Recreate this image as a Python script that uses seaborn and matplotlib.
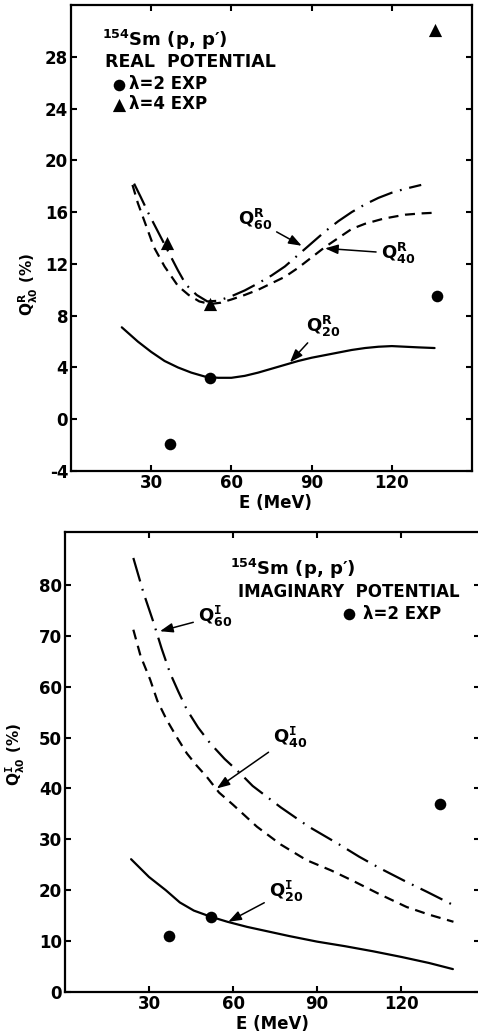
#!/usr/bin/env python3
# -*- coding: utf-8 -*-
"""
154Sm(p,p') quadrupole/hexadecapole moment ratios, real and imaginary potential
"""

import matplotlib
matplotlib.use("Agg")
import matplotlib.pyplot as plt
import seaborn as sns

# ---- top panel: real potential ----
e_q20r = [19, 25, 30, 35, 40, 45, 50, 55, 60, 65, 70, 75, 80, 85, 90, 95, 100,
          105, 110, 115, 120, 125, 130, 136]
q20r = [7.1, 6.0, 5.2, 4.5, 4.0, 3.6, 3.3, 3.2, 3.2, 3.35, 3.6, 3.9, 4.2, 4.5,
        4.75, 4.95, 5.15, 5.35, 5.5, 5.6, 5.65, 5.6, 5.55, 5.5]

e_q40r = [23, 25, 28, 31, 35, 40, 44, 48, 52, 56, 60, 65, 70, 75, 80, 85, 90,
          95, 100, 105, 110, 117, 125, 131, 136]
q40r = [18.1, 16.7, 15.0, 13.3, 11.8, 10.3, 9.6, 9.1, 8.9, 9.0, 9.25, 9.6, 10.0,
        10.5, 11.0, 11.7, 12.5, 13.3, 14.0, 14.7, 15.1, 15.5, 15.8, 15.9, 15.95]

e_q60r = [23.6, 26, 29, 33, 36, 40, 43, 47, 51, 55, 60, 65, 70, 75, 80, 85, 90,
          95, 100, 105, 110, 115, 120, 125, 131]
q60r = [18.2, 17.2, 15.9, 14.3, 13.1, 11.5, 10.4, 9.6, 9.1, 9.15, 9.5, 9.95,
        10.5, 11.1, 11.8, 12.7, 13.6, 14.5, 15.3, 16.0, 16.6, 17.1, 17.5, 17.8, 18.1]

e_exp2_r = [37, 52, 137]
q_exp2_r = [-1.9, 3.2, 9.5]
e_exp4_r = [36, 52, 136]
q_exp4_r = [13.6, 8.9, 30.1]

# ---- bottom panel: imaginary potential ----
e_q20i = [23.6, 30, 36, 41, 46, 52, 58, 65, 70, 80, 90, 100, 110, 120, 130, 138.5]
q20i = [26.1, 22.6, 20.0, 17.6, 16.0, 14.8, 13.8, 12.8, 12.2, 11.0, 9.9, 9.0,
        8.0, 6.9, 5.7, 4.5]

e_q40i = [24.4, 27, 30.4, 33, 36.3, 40, 43.5, 47, 50.6, 55, 60, 68.5, 77, 86.3,
          95, 103, 112, 122, 130, 138.7]
q40i = [71.2, 66.0, 61.4, 57.2, 53.5, 50.0, 46.9, 44.5, 42.3, 39.2, 36.8, 32.5,
        29.0, 25.9, 23.9, 21.8, 19.3, 16.7, 15.2, 13.8]

e_q60i = [24.4, 28, 31.5, 34.5, 37.5, 40.5, 43.5, 47.5, 51.8, 57, 62.5, 67, 72,
          77, 87, 98.2, 105, 112.5, 121, 129.2, 139.3]
q60i = [85.3, 78.5, 72.8, 67.5, 62.7, 59.0, 55.5, 52.0, 48.9, 45.8, 43.0, 40.5,
        38.4, 36.3, 32.5, 28.9, 26.6, 24.3, 21.9, 19.7, 16.9]

e_exp2_i = [37, 52, 134]
q_exp2_i = [11.0, 14.8, 36.9]

x_ticks = [30, 60, 90, 120]
y_ticks_r = [-4, 0, 4, 8, 12, 16, 20, 24, 28]
y_ticks_i = [0, 10, 20, 30, 40, 50, 60, 70, 80]

# ---- style ----
sns.set_theme(style="ticks")
plt.rcParams['font.family'] = ['DejaVu Sans']
plt.rcParams['font.weight'] = 'bold'
plt.rcParams['mathtext.default'] = 'bf'
plt.rcParams['axes.unicode_minus'] = False
plt.rcParams['text.color'] = 'black'
plt.rcParams['axes.labelcolor'] = 'black'

LW = 1.6
DASHED = (0, (4.5, 3))
DASHDOT = (0, (11, 3.5, 0.8, 3.5))
ARROW = dict(arrowstyle='-|>,head_length=0.6,head_width=0.22', color='black',
             lw=1.1, shrinkA=1, shrinkB=0)


def style_axes(ax, xlim, ylim, yticks):
    ax.set_xlim(*xlim)
    ax.set_ylim(*ylim)
    ax.set_xticks(x_ticks)
    ax.set_yticks(yticks)
    for s in ax.spines.values():
        s.set_linewidth(1.6)
        s.set_color('black')
    ax.tick_params(direction='in', length=4, width=1.5, top=True, right=True,
                   labelsize=12, pad=2, colors='black')
    for lab in ax.get_xticklabels() + ax.get_yticklabels():
        lab.set_fontweight('bold')
    ax.set_xlabel('E (MeV)', fontsize=12, fontweight='bold')
    ax.grid(False)


fig = plt.figure(figsize=(4.78, 10.35), dpi=100)
ax1 = fig.add_axes([71 / 478, (1035 - 471) / 1035, 401 / 478, 466 / 1035])
ax2 = fig.add_axes([65 / 478, (1035 - 992) / 1035, 414.5 / 478, 460.5 / 1035])

# ---- top panel ----
sns.lineplot(x=e_q20r, y=q20r, ax=ax1, color='black', lw=LW)
sns.lineplot(x=e_q40r, y=q40r, ax=ax1, color='black', lw=LW, linestyle=DASHED)
sns.lineplot(x=e_q60r, y=q60r, ax=ax1, color='black', lw=LW, linestyle=DASHDOT)
sns.scatterplot(x=e_exp2_r, y=q_exp2_r, ax=ax1, color='black', marker='o', s=70,
                edgecolor='black', linewidth=0, label='λ=2 EXP', zorder=5)
sns.scatterplot(x=e_exp4_r, y=q_exp4_r, ax=ax1, color='black', marker='^', s=90,
                edgecolor='black', linewidth=0, label='λ=4 EXP', zorder=5)

style_axes(ax1, (0, 150), (-4, 32), y_ticks_r)
ax1.set_ylabel(r'$Q^{R}_{\lambda 0}$ (%)', fontsize=11, fontweight='bold')
ax1.yaxis.set_label_coords(-0.078, 0.40)
ax1.xaxis.set_label_coords(0.51, -0.05)

ax1.text(11.6, 28.8, r'$^{154}$Sm (p, p′)', fontsize=13, fontweight='bold', va='baseline')
ax1.text(12.7, 27.2, 'REAL  POTENTIAL', fontsize=12.5, fontweight='bold', va='baseline')
h, l = ax1.get_legend_handles_labels()
ax1.legend(h, l, loc='upper left', bbox_to_anchor=(14.9, 26.6),
           bbox_transform=ax1.transData, frameon=False, borderpad=0,
           borderaxespad=0, handlelength=1.0, handletextpad=0.1,
           labelspacing=0.12, prop=dict(size=12, weight='bold'))

ax1.annotate(r'$Q^{R}_{60}$', xy=(86.3, 13.4), xytext=(68.8, 15.4), fontsize=13,
             ha='center', va='center', arrowprops=ARROW)
ax1.annotate(r'$Q^{R}_{40}$', xy=(95, 13.2), xytext=(122.3, 12.8), fontsize=13,
             ha='center', va='center', arrowprops=ARROW)
ax1.annotate(r'$Q^{R}_{20}$', xy=(81.9, 4.4), xytext=(94.3, 7.2), fontsize=13,
             ha='center', va='center', arrowprops=ARROW)

# ---- bottom panel ----
sns.lineplot(x=e_q20i, y=q20i, ax=ax2, color='black', lw=LW)
sns.lineplot(x=e_q40i, y=q40i, ax=ax2, color='black', lw=LW, linestyle=DASHED)
sns.lineplot(x=e_q60i, y=q60i, ax=ax2, color='black', lw=LW, linestyle=DASHDOT)
sns.scatterplot(x=e_exp2_i, y=q_exp2_i, ax=ax2, color='black', marker='o', s=70,
                edgecolor='black', linewidth=0, label='λ=2 EXP', zorder=5)

style_axes(ax2, (0, 148), (0, 90.5), y_ticks_i)
ax2.set_ylabel(r'$Q^{\mathtt{I}}_{\lambda 0}$ (%)', fontsize=11, fontweight='bold')
ax2.yaxis.set_label_coords(-0.092, 0.515)
ax2.xaxis.set_label_coords(0.50, -0.05)

ax2.text(58.9, 82.0, r'$^{154}$Sm (p, p′)', fontsize=13, fontweight='bold', va='baseline')
ax2.text(61.8, 77.7, 'IMAGINARY  POTENTIAL', fontsize=12, fontweight='bold', va='baseline')
h, l = ax2.get_legend_handles_labels()
ax2.legend(h, l, loc='upper left', bbox_to_anchor=(98.5, 76.1),
           bbox_transform=ax2.transData, frameon=False, borderpad=0,
           borderaxespad=0, handlelength=1.0, handletextpad=0.3,
           prop=dict(size=12, weight='bold'))

ax2.annotate(r'$Q^{\mathtt{I}}_{60}$', xy=(33.9, 70.9), xytext=(53.6, 73.8), fontsize=13,
             ha='center', va='center', arrowprops=ARROW)
ax2.annotate(r'$Q^{\mathtt{I}}_{40}$', xy=(54.2, 40.0), xytext=(80.4, 50.1), fontsize=13,
             ha='center', va='center', arrowprops=ARROW)
ax2.annotate(r'$Q^{\mathtt{I}}_{20}$', xy=(58.3, 13.8), xytext=(78.9, 19.8), fontsize=13,
             ha='center', va='center', arrowprops=ARROW)

fig.savefig('out.png', dpi=100, facecolor='white')
